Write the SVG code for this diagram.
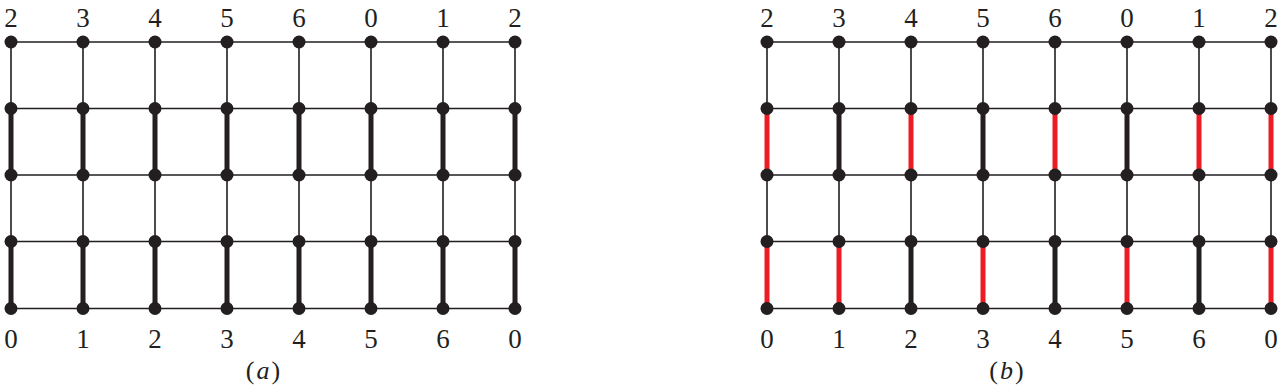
<svg xmlns="http://www.w3.org/2000/svg" width="1286" height="392" viewBox="0 0 1286 392">
<style>
.thin{stroke:#231f20;stroke-width:1.6;fill:none}
.thk{stroke:#231f20;stroke-width:5;stroke-linecap:butt}
.red{stroke:#ed1c24;stroke-width:5;stroke-linecap:butt}
.dot{fill:#231f20}
</style>
<defs>
<g id="grid">
<path class="thin" d="M11 42H515M11 108.5H515M11 175H515M11 241.5H515M11 308.5H515M11 42V308.5M83 42V308.5M155 42V308.5M227 42V308.5M299 42V308.5M371 42V308.5M443 42V308.5M515 42V308.5"/>
</g>
<g id="dots">
<g class="dot">
<circle cx="11" cy="42" r="6.5"/><circle cx="83" cy="42" r="6.5"/><circle cx="155" cy="42" r="6.5"/><circle cx="227" cy="42" r="6.5"/><circle cx="299" cy="42" r="6.5"/><circle cx="371" cy="42" r="6.5"/><circle cx="443" cy="42" r="6.5"/><circle cx="515" cy="42" r="6.5"/>
<circle cx="11" cy="108.5" r="6.5"/><circle cx="83" cy="108.5" r="6.5"/><circle cx="155" cy="108.5" r="6.5"/><circle cx="227" cy="108.5" r="6.5"/><circle cx="299" cy="108.5" r="6.5"/><circle cx="371" cy="108.5" r="6.5"/><circle cx="443" cy="108.5" r="6.5"/><circle cx="515" cy="108.5" r="6.5"/>
<circle cx="11" cy="175" r="6.5"/><circle cx="83" cy="175" r="6.5"/><circle cx="155" cy="175" r="6.5"/><circle cx="227" cy="175" r="6.5"/><circle cx="299" cy="175" r="6.5"/><circle cx="371" cy="175" r="6.5"/><circle cx="443" cy="175" r="6.5"/><circle cx="515" cy="175" r="6.5"/>
<circle cx="11" cy="241.5" r="6.5"/><circle cx="83" cy="241.5" r="6.5"/><circle cx="155" cy="241.5" r="6.5"/><circle cx="227" cy="241.5" r="6.5"/><circle cx="299" cy="241.5" r="6.5"/><circle cx="371" cy="241.5" r="6.5"/><circle cx="443" cy="241.5" r="6.5"/><circle cx="515" cy="241.5" r="6.5"/>
<circle cx="11" cy="308.5" r="6.5"/><circle cx="83" cy="308.5" r="6.5"/><circle cx="155" cy="308.5" r="6.5"/><circle cx="227" cy="308.5" r="6.5"/><circle cx="299" cy="308.5" r="6.5"/><circle cx="371" cy="308.5" r="6.5"/><circle cx="443" cy="308.5" r="6.5"/><circle cx="515" cy="308.5" r="6.5"/>
</g>
</g>
</defs>
<g id="diagram-a">
<g id="connectors-a">
<use href="#grid"/>
<path class="thk" d="M11 108.5V175M83 108.5V175M155 108.5V175M227 108.5V175M299 108.5V175M371 108.5V175M443 108.5V175M515 108.5V175M11 241.5V308.5M83 241.5V308.5M155 241.5V308.5M227 241.5V308.5M299 241.5V308.5M371 241.5V308.5M443 241.5V308.5M515 241.5V308.5"/>
</g>
<g id="nodes-a"><use href="#dots"/></g>
<g id="labels-a" font-family="Liberation Serif, Times New Roman, serif" font-size="27" fill="#231f20" text-anchor="middle">
<text x="11" y="27">2</text><text x="83" y="27">3</text><text x="155" y="27">4</text><text x="227" y="27">5</text><text x="299" y="27">6</text><text x="371" y="27">0</text><text x="443" y="27">1</text><text x="515" y="27">2</text>
<text x="11" y="348">0</text><text x="83" y="348">1</text><text x="155" y="348">2</text><text x="227" y="348">3</text><text x="299" y="348">4</text><text x="371" y="348">5</text><text x="443" y="348">6</text><text x="515" y="348">0</text>
<text x="264" y="379" font-size="26" letter-spacing="2">(<tspan font-style="italic">a</tspan>)</text>
</g>
</g>
<g id="diagram-b" transform="translate(756,0)">
<g id="connectors-b">
<use href="#grid"/>
<path class="red" d="M11 108.5V175M155 108.5V175M299 108.5V175M443 108.5V175M515 108.5V175M11 241.5V308.5M83 241.5V308.5M227 241.5V308.5M371 241.5V308.5M515 241.5V308.5"/>
<path class="thk" d="M83 108.5V175M227 108.5V175M371 108.5V175M155 241.5V308.5M299 241.5V308.5M443 241.5V308.5"/>
</g>
<g id="nodes-b"><use href="#dots"/></g>
<g id="labels-b" font-family="Liberation Serif, Times New Roman, serif" font-size="27" fill="#231f20" text-anchor="middle">
<text x="11" y="27">2</text><text x="83" y="27">3</text><text x="155" y="27">4</text><text x="227" y="27">5</text><text x="299" y="27">6</text><text x="371" y="27">0</text><text x="443" y="27">1</text><text x="515" y="27">2</text>
<text x="11" y="348">0</text><text x="83" y="348">1</text><text x="155" y="348">2</text><text x="227" y="348">3</text><text x="299" y="348">4</text><text x="371" y="348">5</text><text x="443" y="348">6</text><text x="515" y="348">0</text>
<text x="251.5" y="379" font-size="26" letter-spacing="2">(<tspan font-style="italic">b</tspan>)</text>
</g>
</g>
</svg>
